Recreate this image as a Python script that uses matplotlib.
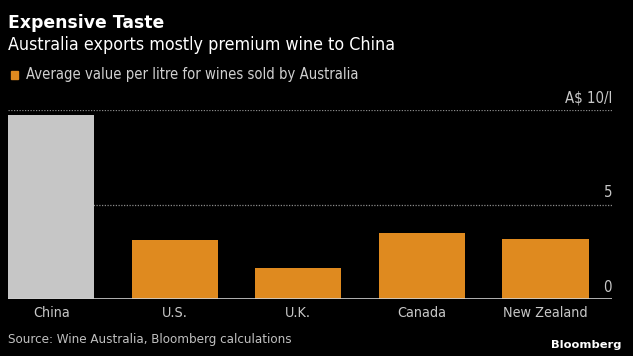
import matplotlib
matplotlib.use("Agg")
import matplotlib.pyplot as plt

categories = ["China", "U.S.", "U.K.", "Canada", "New Zealand"]
values = [9.75, 3.12, 1.64, 3.49, 3.17]
highlight = ["China"]
yticks = [0, 5, 10]
ytick_labels = ["0", "5", "A$ 10/l"]

title = "Expensive Taste"
subtitle = "Australia exports mostly premium wine to China"
legend_label = "Average value per litre for wines sold by Australia"
source = "Source: Wine Australia, Bloomberg calculations"

W, H = 633, 356
body = dict(family=["DejaVu Sans"], stretch="condensed")
plt.rcParams["font.family"] = ["DejaVu Sans"]

fig = plt.figure(figsize=(W / 100, H / 100), dpi=100, facecolor="black")
ax_l, ax_r, ax_b, ax_t = 8, 612, 299, 110
ax = fig.add_axes([ax_l / W, 1 - ax_b / H, (ax_r - ax_l) / W, (ax_b - ax_t) / H])
ax.set_facecolor("black")

orange = "#df8a1f"
grey = "#c6c6c6"
colors = [grey if c in highlight else orange for c in categories]
x = list(range(len(categories)))
ax.bar(x, values, width=0.70, color=colors, zorder=2)
ax.set_xlim(-0.35, 4.54)
ax.set_ylim(0, 10)
for s in ax.spines.values():
    s.set_visible(False)
ax.set_yticks([])
ax.set_xticks(x)
ax.set_xticklabels(categories, color="#c8c8c8", fontsize=11, **body)
ax.tick_params(axis="x", length=0, pad=5)
for yv in yticks[1:]:
    ax.axhline(yv, color="#8a8a8a", lw=0.9, ls=(0, (1, 1.2)), zorder=1)
ax.axhline(0, color="#d0d0d0", lw=1.2, zorder=3)
ylabs = []
for yv, lab in zip(yticks, ytick_labels):
    ylabs.append(ax.annotate(lab, xy=(1, yv), xycoords=("axes fraction", "data"),
                xytext=(0, 3), textcoords="offset points",
                ha="right", va="bottom", color="#c8c8c8", fontsize=11, **body))

def ftext(px, py, s, **kw):
    return fig.text(px / W, 1 - py / H, s, **kw)

t_title = ftext(8, 23, title, color="white", fontsize=15, fontweight="bold",
                family=["DejaVu Sans"], va="center")
t_sub = ftext(8, 45, subtitle, color="white", fontsize=14, va="center", **body)
fig.patches.append(plt.Rectangle((10.5 / W, 1 - 78.5 / H), 7.5 / W, 8 / H,
                                 transform=fig.transFigure, color=orange))
t_leg = ftext(26, 74, legend_label, color="#d0d0d0", fontsize=11.5, va="center", **body)
t_src = ftext(8, 339, source, color="#c0c0c0", fontsize=11, va="center", **body)
t_bb = ftext(622, 345, "Bloomberg", color="white", fontsize=10, fontweight="bold",
             family=["DejaVu Sans"], ha="right", va="center")

fig.canvas.draw()
r = fig.canvas.get_renderer()

def fit(t, target):
    w = t.get_window_extent(r).width
    t.set_fontsize(t.get_fontsize() * target / w)

fit(t_title, 157)
fit(t_sub, 389)
fit(t_leg, 331)
fit(t_src, 284)
fit(t_bb, 70)
fit(ylabs[2], 47)
for t in ylabs[:2]:
    t.set_fontsize(ylabs[2].get_fontsize())
ticks = ax.get_xticklabels()
fit(ticks[-1], 84.5)
for t in ticks:
    t.set_fontsize(ticks[-1].get_fontsize())

fig.savefig("out.png", dpi=100, facecolor="black")
